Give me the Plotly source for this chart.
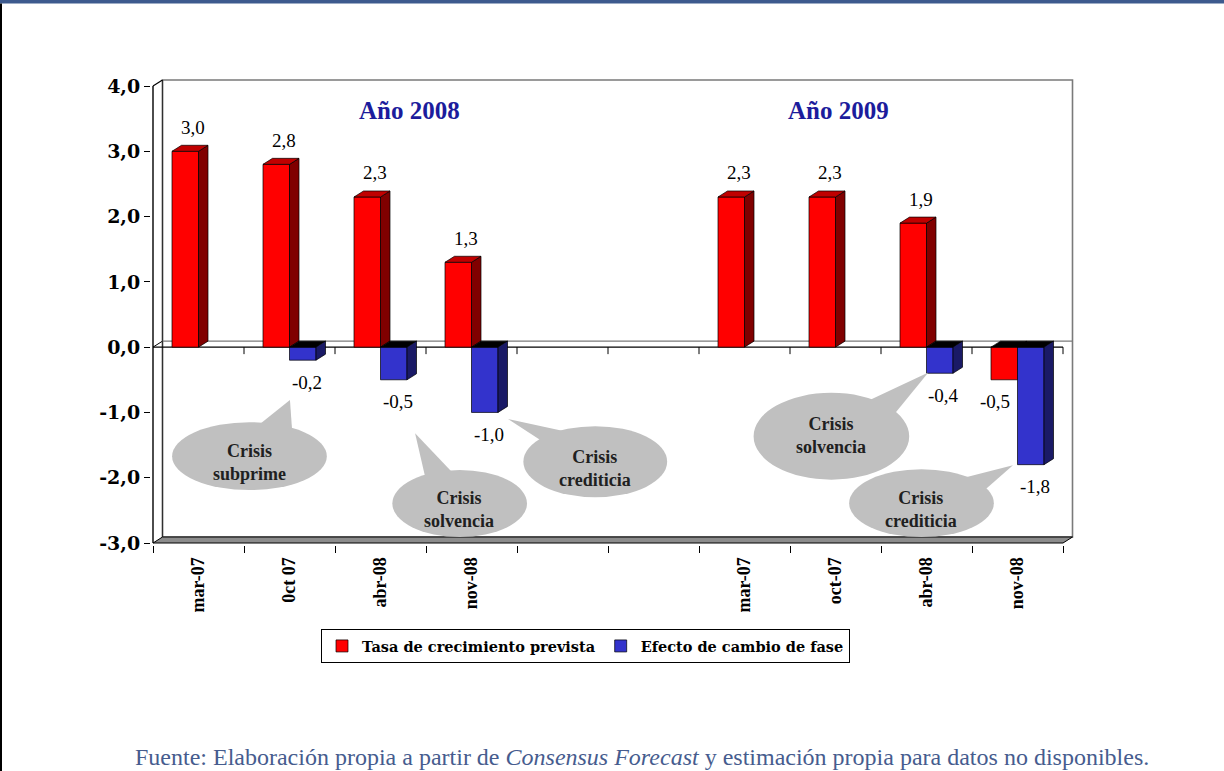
import plotly.graph_objects as go

# ---------------------------------------------------------------------------
# Data
# ---------------------------------------------------------------------------
categorias = ["mar-07", "0ct 07", "abr-08", "nov-08", "", "",
              "mar-07", "oct-07", "abr-08", "nov-08"]
tasa_prevista = [3.0, 2.8, 2.3, 1.3, None, None, 2.3, 2.3, 1.9, -0.5]
efecto_fase = [None, -0.2, -0.5, -1.0, None, None, None, None, -0.4, -1.8]
y_ticks = [-3, -2, -1, 0, 1, 2, 3, 4]
y_tick_labels = ["-3,0", "-2,0", "-1,0", "0,0", "1,0", "2,0", "3,0", "4,0"]
nombre_serie_1 = "Tasa de crecimiento prevista"
nombre_serie_2 = "Efecto de cambio de fase"


def fmt(v):
    return f"{v:.1f}".replace(".", ",")


# ---------------------------------------------------------------------------
# Geometry of the pseudo-3D frame (pixels per unit on each axis)
# ---------------------------------------------------------------------------
W, H = 1224, 771
PX_X = 91.0
PX_Y = 457.0 / 7.0
PLOT_L, PLOT_R, PLOT_T, PLOT_B = 151, 1074, 79, 545
X_MIN, X_MAX = -0.5, len(categorias) - 0.5
Y_MIN, Y_MAX = -3.0, 4.0
x_lo = X_MIN - 2 / PX_X
x_hi = x_lo + (PLOT_R - PLOT_L) / PX_X
y_lo = Y_MIN - 2 / PX_Y
y_hi = y_lo + (PLOT_B - PLOT_T) / PX_Y
DX = 9.5 / PX_X      # depth offset, x
DY = 6.0 / PX_Y      # depth offset, y
BW = 26.5 / PX_X     # bar width

RED, RED_SIDE, RED_TOP = "#ff0000", "#800000", "#c00000"
BLUE, BLUE_SIDE = "#3333cc", "#1a1a66"
EDGE = dict(color="black", width=0.7)

fig = go.Figure()

idx = list(range(len(categorias)))

fig.add_trace(go.Bar(x=idx, y=tasa_prevista, offset=-BW, width=BW,
                     name=nombre_serie_1, marker=dict(color=RED, line=EDGE)))
fig.add_trace(go.Bar(x=idx, y=efecto_fase, offset=0, width=BW,
                     name=nombre_serie_2, marker=dict(color=BLUE, line=EDGE)))


# Side and top faces of every bar, built from the same values
def poly(pts, xs, ys):
    for px, py in pts + [pts[0]]:
        xs.append(px)
        ys.append(py)
    xs.append(None)
    ys.append(None)


faces = {"red_side": ([], []), "red_top": ([], []),
         "blue_side": ([], []), "dark_top": ([], [])}

for i in idx:
    r = tasa_prevista[i]
    b = efecto_fase[i]
    # red bar: x from i-BW to i
    if r is not None:
        x0, x1 = i - BW, i
        if r >= 0:
            poly([(x0, r), (x1, r), (x1 + DX, r + DY), (x0 + DX, r + DY)], *faces["red_top"])
        else:
            poly([(x0, 0), (x1, 0), (x1 + DX, DY), (x0 + DX, DY)], *faces["dark_top"])
        # right face, hidden where the neighbouring bar covers it
        lo, hi = sorted([0, r])
        if b is not None and (b < 0) == (r < 0):
            if abs(b) >= abs(r):
                lo = hi = None
            elif r > 0:
                lo = b
            else:
                hi = b
        if lo is not None:
            poly([(x1, lo), (x1, hi), (x1 + DX, hi + DY), (x1 + DX, lo + DY)], *faces["red_side"])
    if b is not None:
        x0, x1 = i, i + BW
        if b < 0:
            poly([(x0, 0), (x1, 0), (x1 + DX, DY), (x0 + DX, DY)], *faces["dark_top"])
        else:
            poly([(x0, b), (x1, b), (x1 + DX, b + DY), (x0 + DX, b + DY)], *faces["dark_top"])
        lo, hi = sorted([0, b])
        poly([(x1, lo), (x1, hi), (x1 + DX, hi + DY), (x1 + DX, lo + DY)], *faces["blue_side"])

face_colors = {"red_side": RED_SIDE, "red_top": RED_TOP,
               "blue_side": BLUE_SIDE, "dark_top": "#000000"}
for key in ["red_side", "red_top", "dark_top", "blue_side"]:
    xs, ys = faces[key]
    if xs:
        fig.add_trace(go.Scatter(x=xs, y=ys, mode="lines", fill="toself",
                                 fillcolor=face_colors[key], line=EDGE,
                                 hoverinfo="skip", showlegend=False))

# ---------------------------------------------------------------------------
# Walls, floor and zero plane
# ---------------------------------------------------------------------------
shapes = []
# back wall
shapes.append(dict(type="rect", xref="x", yref="y", layer="below",
                   x0=X_MIN + DX, x1=X_MAX + DX, y0=Y_MIN + DY, y1=Y_MAX + DY,
                   fillcolor="white", line=dict(color="#7a7a7a", width=1.6)))
shapes.append(dict(type="line", xref="x", yref="y", layer="below",
                   x0=X_MIN + DX, x1=X_MIN + DX, y0=Y_MIN + DY, y1=Y_MAX + DY,
                   line=dict(color="#303030", width=1.2)))
# floor
shapes.append(dict(type="path", xref="x", yref="y", layer="below",
                   path=f"M{X_MIN},{Y_MIN} L{X_MAX},{Y_MIN} L{X_MAX + DX},{Y_MIN + DY} "
                        f"L{X_MIN + DX},{Y_MIN + DY} Z",
                   fillcolor="#8c8c8c", line=dict(color="black", width=1)))
# left side wall edges
shapes.append(dict(type="line", xref="x", yref="y", layer="below",
                   x0=X_MIN, x1=X_MIN + DX, y0=Y_MAX, y1=Y_MAX + DY,
                   line=dict(color="black", width=1.2)))
shapes.append(dict(type="line", xref="x", yref="y", layer="below",
                   x0=X_MIN, x1=X_MIN, y0=Y_MIN, y1=Y_MAX,
                   line=dict(color="black", width=1.4)))
# zero plane
shapes.append(dict(type="line", xref="x", yref="y", layer="below",
                   x0=X_MIN + DX, x1=X_MAX + DX, y0=DY, y1=DY,
                   line=dict(color="#7a7a7a", width=1.4)))
shapes.append(dict(type="line", xref="x", yref="y", layer="below",
                   x0=X_MIN, x1=X_MAX, y0=0, y1=0,
                   line=dict(color="black", width=1.2)))
shapes.append(dict(type="line", xref="x", yref="y", layer="below",
                   x0=X_MIN, x1=X_MIN + DX, y0=0, y1=DY,
                   line=dict(color="black", width=1)))
# category ticks on the zero line
for k in range(1, len(categorias) + 1):
    xb = X_MIN + k
    shapes.append(dict(type="line", xref="x", yref="y", layer="below",
                       x0=xb, x1=xb, y0=0, y1=-7 / PX_Y,
                       line=dict(color="black", width=1)))

# ---------------------------------------------------------------------------
# Callouts
# ---------------------------------------------------------------------------
callouts = [
    ("Crisis<br>subprime", (-0.29, 1.41, -1.15, -2.19),
     [(1.005, -0.81), (0.62, -1.24), (1.03, -1.30)], (0.56, -1.76)),
    ("Crisis<br>solvencia", (2.13, 3.61, -1.88, -2.91),
     [(2.38, -1.32), (2.49, -1.98), (2.79, -1.92)], (2.86, -2.48)),
    ("Crisis<br>crediticia", (3.57, 5.15, -1.21, -2.30),
     [(3.40, -1.10), (3.84, -1.50), (4.06, -1.30)], (4.36, -1.86)),
    ("Crisis<br>solvencia", (6.10, 7.81, -0.70, -2.03),
     [(8.02, -0.39), (7.33, -0.84), (7.65, -1.02)], (6.95, -1.36)),
    ("Crisis<br>crediticia", (7.15, 8.74, -1.87, -2.91),
     [(8.95, -1.81), (8.39, -2.01), (8.64, -2.19)], (7.94, -2.48)),
]
GRAY = "#c0c0c0"
annotations = []
for text, (ex0, ex1, ey0, ey1), tri, (tx, ty) in callouts:
    shapes.append(dict(type="circle", xref="x", yref="y", layer="above",
                       x0=ex0, x1=ex1, y0=ey0, y1=ey1,
                       fillcolor=GRAY, line=dict(width=0)))
    p = " L".join(f"{a},{c}" for a, c in tri)
    shapes.append(dict(type="path", xref="x", yref="y", layer="above",
                       path=f"M{p} Z", fillcolor=GRAY, line=dict(width=0)))
    annotations.append(dict(x=tx, y=ty, xref="x", yref="y", text=f"<b>{text}</b>",
                            showarrow=False,
                            font=dict(family="Liberation Serif", size=18, color="#202020")))

# value labels
LBL_FONT = dict(family="Liberation Serif", size=19, color="black")
for i in idx:
    for vals, xc, neg_shift in ((tasa_prevista, i - BW / 2, -9),
                                (efecto_fase, i + BW / 2, 4)):
        v = vals[i]
        if v is None:
            continue
        if v >= 0:
            annotations.append(dict(x=xc, y=v, xref="x", yref="y", text=fmt(v),
                                    showarrow=False, xshift=8, yshift=24, font=LBL_FONT))
        else:
            annotations.append(dict(x=xc, y=v, xref="x", yref="y", text=fmt(v),
                                    showarrow=False, xshift=neg_shift, yshift=-22,
                                    font=LBL_FONT))

# year headers
for text, xc in (("Año 2008", 2.32), ("Año 2009", 7.03)):
    annotations.append(dict(x=xc, y=3.63, xref="x", yref="y", text=f"<b>{text}</b>",
                            showarrow=False,
                            font=dict(family="Liberation Serif", size=25, color="#1c1c9c")))

# source note
pw = PLOT_R - PLOT_L
ph = PLOT_B - PLOT_T
annotations.append(dict(
    x=(133 - PLOT_L) / pw, y=(PLOT_B - 757) / ph, xref="paper", yref="paper",
    xanchor="left", yanchor="middle", showarrow=False,
    text="Fuente: Elaboración propia a partir de <i>Consensus Forecast</i> "
         "y estimación propia para datos no disponibles.",
    font=dict(family="Liberation Serif", size=24, color="#465c8e")))

# page decorations: top band and left edge
shapes.append(dict(type="rect", xref="paper", yref="paper", layer="above",
                   x0=-PLOT_L / pw, x1=(W - PLOT_L) / pw,
                   y0=(PLOT_B - 3.5) / ph, y1=PLOT_B / ph,
                   fillcolor="#3d5a8e", line=dict(width=0)))
shapes.append(dict(type="rect", xref="paper", yref="paper", layer="above",
                   x0=-PLOT_L / pw, x1=(2 - PLOT_L) / pw,
                   y0=(PLOT_B - H) / ph, y1=(PLOT_B - 3.5) / ph,
                   fillcolor="black", line=dict(width=0)))

fig.update_layout(
    width=W, height=H,
    margin=dict(l=PLOT_L, r=W - PLOT_R, t=PLOT_T, b=H - PLOT_B, autoexpand=False),
    paper_bgcolor="white", plot_bgcolor="white",
    barmode="overlay",
    showlegend=True,
    legend=dict(orientation="h", xref="container", yref="container",
                x=321 / W, y=1 - 629 / H, xanchor="left", yanchor="top",
                bordercolor="black", borderwidth=1, bgcolor="white",
                itemwidth=30, traceorder="normal",
                font=dict(family="DejaVu Serif", size=14.5, color="black",
                          weight="bold")),
    shapes=shapes,
    annotations=annotations,
    xaxis=dict(range=[x_lo, x_hi], tickmode="array", tickvals=idx,
               ticktext=[f"<b>{c}</b>" for c in categorias], tickangle=-90,
               ticks="outside", ticklen=4, tickcolor="rgba(0,0,0,0)",
               showgrid=False, zeroline=False, showline=False,
               tickfont=dict(family="Liberation Serif", size=18, color="black"),
               minor=dict(tickmode="array",
                          tickvals=[X_MIN + k for k in range(len(categorias) + 1)],
                          ticks="outside", ticklen=7, tickcolor="black", tickwidth=1,
                          showgrid=False),
               fixedrange=True),
    yaxis=dict(range=[y_lo, y_hi], tickmode="array", tickvals=y_ticks,
               ticktext=[f"<b>{t}</b>" for t in y_tick_labels],
               ticks="outside", ticklen=6, tickcolor="black", tickwidth=1.2,
               showgrid=False, zeroline=False, showline=False,
               tickfont=dict(family="DejaVu Serif", size=19, color="black"),
               fixedrange=True),
)

fig.write_html("out.html")
